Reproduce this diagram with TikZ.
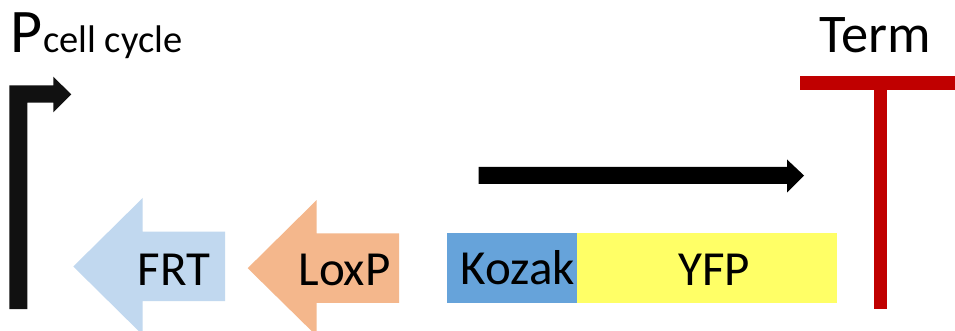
\documentclass[tikz,border=0pt]{standalone}
\usepackage{fontspec}
\setmainfont{Carlito}
\definecolor{frtblue}{HTML}{C1D8EF}
\definecolor{loxorange}{HTML}{F4B78C}
\definecolor{kozakblue}{HTML}{66A3DA}
\definecolor{yfpyellow}{HTML}{FFFF66}
\definecolor{termred}{HTML}{C00000}
\definecolor{promblack}{HTML}{111111}
\tikzset{
  lbl/.style={inner sep=0pt,anchor=base,text=black},
  mid/.style={lbl,font=\fontsize{49}{49}\selectfont},
}
\begin{document}
\begin{tikzpicture}[x=1pt,y=-1pt]
\useasboundingbox (0,0) rectangle (955,331);
\clip (0,0) rectangle (955,331);
\fill[white] (0,0) rectangle (955,331);
% promoter
\fill[promblack] (9.4,309) -- (9.4,85.3) -- (53.3,85.3) -- (53.3,76.7) -- (71.3,94.4) -- (53.3,112.3) -- (53.3,102.7) -- (27.3,102.7) -- (27.3,309) -- cycle;
% transcription arrow
\fill[black] (478.5,167) -- (787,167) -- (787,159.5) -- (804,175.5) -- (787,192.5) -- (787,184) -- (478.5,184) -- cycle;
% terminator
\fill[termred] (799.6,76.3) rectangle (955,90);
\fill[termred] (873.6,90) rectangle (887.3,309.3);
% FRT
\fill[frtblue] (73.3,266.5) -- (142.7,198) -- (142.7,231.7) -- (225,231.7) -- (225,301) -- (142.7,301) -- (142.7,335) -- cycle;
% LoxP
\fill[loxorange] (247.7,268.2) -- (316.7,200) -- (316.7,233.3) -- (399,233.3) -- (399,302.8) -- (316.7,302.8) -- (316.7,336) -- cycle;
% Kozak, YFP
\fill[kozakblue] (447.4,233.3) rectangle (577.3,303.3);
\fill[yfpyellow] (577.3,233.3) rectangle (836.8,303.3);
% labels
\node[lbl,anchor=base west,font=\fontsize{62}{62}\selectfont] (pmain) at (10.3,53) {P};
\node[lbl,anchor=base west,font=\fontsize{38.5}{38.5}\selectfont] (psub) at (43,53) {cell cycle};
\node[lbl,font=\fontsize{54.5}{54.5}\selectfont] (term) at (875.5,53) {Term};
\node[mid] (frt) at (174,285.5) {FRT};
\node[mid] (loxp) at (344.5,285.5) {LoxP};
\node[mid] (kozak) at (518,284.5) {Kozak};
\node[mid] (yfp) at (714,285.5) {YFP};
\end{tikzpicture}
\end{document}
